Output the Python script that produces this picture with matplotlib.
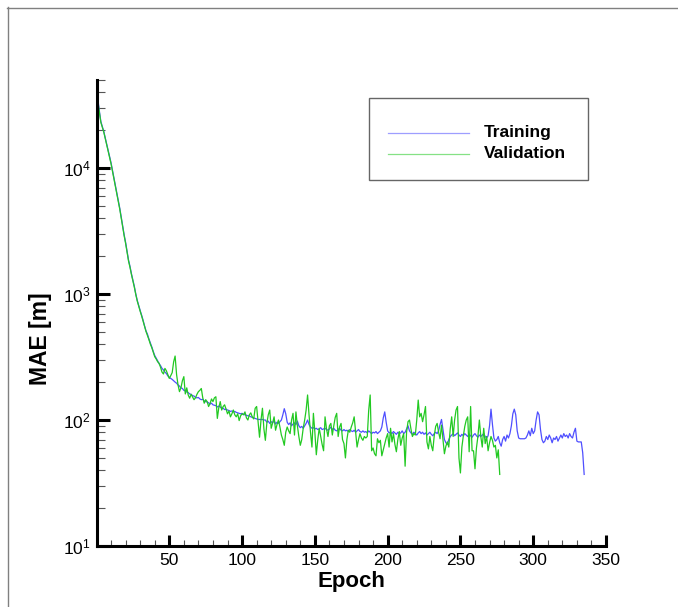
#!/usr/bin/env python3
"""Training / validation MAE vs epoch (log y), Tecplot-like layout."""

import numpy as np
import matplotlib

matplotlib.use("Agg")
import matplotlib.pyplot as plt
from matplotlib.lines import Line2D
from matplotlib.patches import Rectangle
from matplotlib.ticker import FixedLocator, LogLocator, NullFormatter

# ---- data (MAE in metres, one value per epoch starting at epoch 1) ----------
train_mae = [
    34700, 28200, 23400, 21400, 19500, 17400, 15500, 13800, 12300, 11000,
    9550, 8320, 7240, 6310, 5500, 4790, 4070, 3470, 2950, 2570,
    2190, 1860, 1660, 1450, 1290, 1150, 1000, 890, 810, 740,
    680, 620, 560, 510, 480, 440, 410, 380, 350, 325,
    310, 295, 280, 270, 257, 250, 240, 234, 224, 218,
    214, 210, 205, 200, 196, 190, 186, 180, 178, 172,
    170, 167, 165, 161, 160, 156, 155, 151, 150, 151,
    147, 145, 146, 142, 140, 139, 137, 134, 136, 132,
    131, 130, 127, 129, 127, 124, 124, 121, 122, 120,
    119, 117, 118, 116, 117, 115, 114, 113, 112, 113,
    111, 110, 109, 108, 108, 106, 105, 104, 103, 102,
    101, 101, 101, 101, 100, 100, 96, 98, 94, 97,
    95, 99, 93, 96, 94, 97, 100, 110, 123, 112,
    96, 92, 95, 90, 93, 95, 92, 98, 90, 87,
    89, 86, 90, 94, 100, 92, 88, 86, 87, 85,
    86, 84, 85, 87, 84, 85, 86, 84, 83, 85,
    88, 84, 86, 83, 82, 84, 86, 83, 82, 84,
    82, 83, 81, 84, 82, 81, 83, 80, 82, 84,
    81, 80, 82, 80, 81, 79, 82, 80, 78, 80,
    79, 81, 78, 80, 82, 88, 104, 116, 96, 82,
    79, 80, 78, 81, 79, 77, 80, 78, 79, 82,
    78, 80, 85, 90, 82, 79, 77, 80, 78, 76,
    79, 81, 78, 80, 77, 79, 76, 78, 80, 77,
    75, 78, 80, 78, 82, 92, 101, 84, 70, 66,
    64, 70, 74, 76, 78, 75, 77, 79, 76, 74,
    77, 75, 78, 76, 74, 77, 75, 73, 76, 78,
    75, 73, 76, 74, 76, 78, 74, 72, 75, 90,
    122, 92, 72, 68, 70, 74, 66, 62, 70, 74,
    68, 76, 72, 78, 90, 112, 122, 110, 82, 72,
    71, 71, 71, 71, 72, 76, 82, 75, 86, 78,
    82, 100, 116, 110, 84, 70, 66, 68, 74, 70,
    76, 72, 66, 72, 70, 74, 68, 72, 76, 72,
    78, 74, 76, 72, 78, 74, 72, 80, 86, 68,
    67, 67, 67, 55, 37,
]

val_mae = [
    33500, 27500, 23000, 21000, 19300, 17200, 15300, 13600, 12100, 10800,
    9400, 8200, 7150, 6200, 5400, 4700, 4000, 3420, 2900, 2520,
    2150, 1830, 1630, 1430, 1270, 1130, 990, 880, 800, 730,
    670, 610, 555, 505, 470, 435, 400, 375, 345, 318,
    305, 290, 282, 262, 240, 232, 257, 246, 230, 214,
    225, 238, 290, 322, 230, 190, 168, 180, 205, 221,
    161, 180, 158, 149, 160, 152, 145, 150, 160, 168,
    172, 178, 150, 136, 145, 140, 128, 135, 147, 140,
    150, 153, 103, 125, 140, 120, 128, 132, 122, 112,
    118, 106, 112, 120, 110, 106, 112, 99, 108, 112,
    110, 116, 104, 100, 110, 114, 106, 102, 124, 128,
    96, 73, 100, 124, 85, 69, 94, 110, 120, 86,
    95, 106, 83, 92, 100, 88, 76, 70, 63, 80,
    88, 82, 78, 100, 113, 76, 116, 90, 74, 63,
    70, 86, 100, 120, 158, 110, 80, 61, 113, 80,
    53, 70, 86, 74, 64, 57, 106, 85, 74, 90,
    94, 76, 90, 105, 113, 74, 88, 94, 70, 65,
    50, 70, 83, 80, 88, 95, 106, 80, 61, 70,
    78, 72, 69, 74, 72, 74, 120, 158, 57, 60,
    54, 52, 71, 66, 69, 52, 58, 65, 72, 78,
    61, 86, 67, 78, 64, 56, 70, 81, 63, 72,
    78, 43, 80, 97, 100, 85, 74, 78, 76, 100,
    144, 106, 113, 97, 110, 128, 67, 59, 74, 63,
    57, 75, 89, 94, 80, 71, 91, 70, 54, 62,
    67, 61, 85, 106, 74, 100, 120, 128, 50, 38,
    61, 75, 89, 100, 106, 56, 128, 57, 57, 41,
    60, 74, 100, 74, 61, 86, 65, 74, 57, 66,
    74, 69, 61, 63, 50, 58, 37,
]

series_names = ["Training", "Validation"]
x_major = [50, 100, 150, 200, 250, 300, 350]

BLUE = "#4f4fff"
GREEN = "#22c922"
W, H = 678, 607


def fx(px):
    return px / W


def fy(py):
    return 1 - py / H


def main():
    plt.rcParams["font.family"] = ["Liberation Sans", "DejaVu Sans"]
    plt.rcParams["mathtext.fontset"] = "custom"
    plt.rcParams["mathtext.rm"] = "Liberation Sans"
    plt.rcParams["mathtext.it"] = "Liberation Sans:italic"
    plt.rcParams["mathtext.bf"] = "Liberation Sans:bold"

    fig = plt.figure(figsize=(W / 100, H / 100), dpi=100)
    ax = fig.add_axes([fx(96.5), fy(546), (606 - 96.5) / W, (546 - 80) / H])

    ep_t = np.arange(1, len(train_mae) + 1)
    ep_v = np.arange(1, len(val_mae) + 1)
    ax.plot(ep_t, train_mae, color=BLUE, lw=0.9)
    ax.plot(ep_v, val_mae, color=GREEN, lw=0.9)

    ax.set_yscale("log")
    ax.set_xlim(0, 350)
    ax.set_ylim(10, 5e4)

    ax.xaxis.set_major_locator(FixedLocator(x_major))
    ax.xaxis.set_minor_locator(FixedLocator([v for v in range(10, 350, 10) if v % 50]))
    ax.yaxis.set_major_locator(LogLocator(base=10, numticks=10))
    ax.yaxis.set_minor_locator(LogLocator(base=10, subs=np.arange(2, 10), numticks=20))
    ax.yaxis.set_minor_formatter(NullFormatter())

    for s in ("top", "right"):
        ax.spines[s].set_visible(False)
    for s in ("left", "bottom"):
        ax.spines[s].set_linewidth(2.2)

    ax.tick_params(which="major", direction="in", width=2.2, labelsize=12.5, color="black")
    ax.tick_params(axis="y", which="major", length=9, pad=4)
    ax.tick_params(axis="x", which="major", length=8, pad=5)
    ax.tick_params(which="minor", direction="in", width=0.8, color="#555555")
    ax.tick_params(axis="y", which="minor", length=5.5)
    ax.tick_params(axis="x", which="minor", length=4.5)

    ax.set_xlabel("Epoch", fontsize=16, fontweight="bold", labelpad=2)
    ax.set_ylabel("MAE [m]", fontsize=16.5, fontweight="bold")
    ax.yaxis.set_label_coords(-0.088, 0.445)

    # legend box, drawn in figure pixels like the original
    fig.add_artist(Rectangle((fx(369), fy(180)), (588 - 369) / W, (180 - 98) / H,
                             transform=fig.transFigure, facecolor="white",
                             edgecolor="#666666", lw=1))
    for name, col, py in zip(series_names, [BLUE, GREEN], [133, 154]):
        fig.add_artist(Line2D([fx(388), fx(469)], [fy(py), fy(py)],
                              transform=fig.transFigure, color=col, lw=0.9, alpha=0.55))
        fig.text(fx(484), fy(py), name, fontsize=12.5, fontweight="bold",
                 va="center", ha="left")

    # outer frame (top and left edges only are visible)
    fig.add_artist(Line2D([fx(7), 1], [fy(7.5), fy(7.5)], transform=fig.transFigure,
                          color="#808080", lw=1))
    fig.add_artist(Line2D([fx(7.5), fx(7.5)], [0, fy(7)], transform=fig.transFigure,
                          color="#808080", lw=1))

    fig.savefig("out.png", dpi=100, facecolor="white")


if __name__ == "__main__":
    main()
